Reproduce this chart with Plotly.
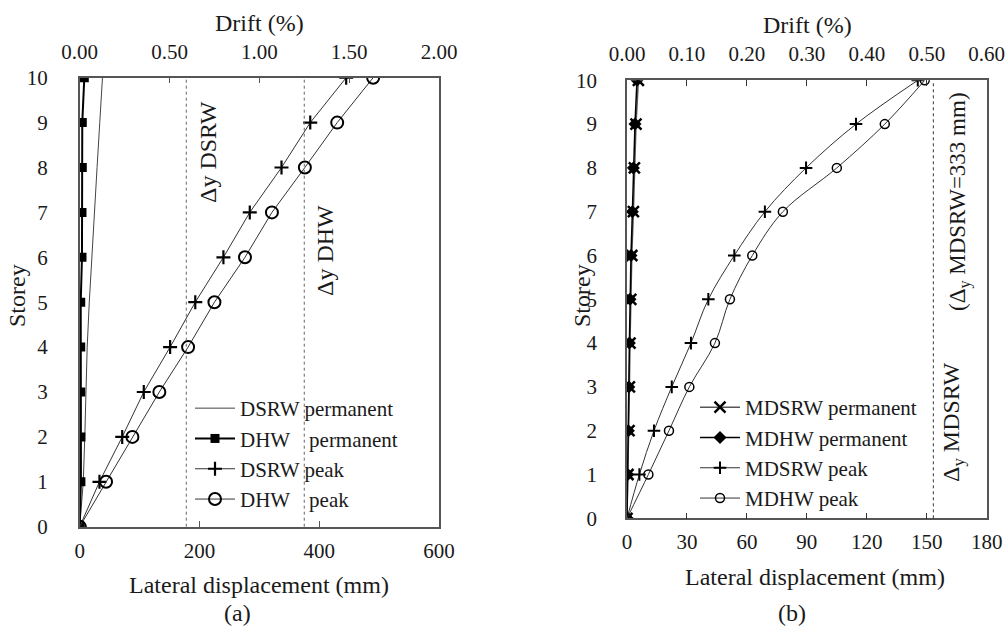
import plotly.graph_objects as go

W, H = 1007, 626
FONT = "'Liberation Serif', 'Times New Roman', 'DejaVu Serif', serif"

storeys = [0, 1, 2, 3, 4, 5, 6, 7, 8, 9, 10]
# panel (a) lateral displacement (mm)
a_dsrw_perm = [0, 6, 8.5, 10.5, 12.5, 16, 20, 24.5, 29, 33.5, 38]
a_dhw_perm = [0, 2, 2, 1.7, 1.7, 1.7, 3.8, 3.8, 4.3, 4.3, 7.7]
a_dsrw_peak = [0, 33, 71, 107, 151, 193, 240, 284, 337, 385, 445]
a_dhw_peak = [0, 44, 88, 133, 181, 225, 276, 321, 376, 430, 490]
a_yield = [178, 375]          # dashed yield lines
# panel (b)
b_mdsrw_perm = [0, 0.5, 1.0, 1.2, 1.5, 1.9, 2.4, 3.2, 3.7, 4.5, 5.7]
b_mdhw_perm = [0, 0.4, 0.7, 0.9, 1.2, 1.5, 2.0, 2.7, 3.2, 4.0, 5.0]
b_mdsrw_peak = [0, 6.2, 13.5, 22.4, 32, 40.7, 53.7, 69, 89.6, 114.6, 145.5]
b_mdhw_peak = [0, 10.7, 21, 31.2, 44, 51.5, 62.7, 78, 105, 129, 149]
b_yield = [153.3]

a_disp_range = [0, 600]
a_drift_range = [0, 2]
b_disp_range = [0, 180]
b_drift_range = [0, 0.6]


def px(x):
    return x / W


def py(y):
    return 1 - y / H


LINE = "#333333"
TXT = "#1a1a1a"
GAP = "\u2002\u2009\u2009"

fig = go.Figure()

# ---- panel (a)
fig.add_trace(go.Scatter(x=a_dsrw_perm, y=storeys, mode="lines", name="DSRW permanent",
                         line=dict(color="#444444", width=1), xaxis="x", yaxis="y", legend="legend"))
fig.add_trace(go.Scatter(x=a_dhw_perm, y=storeys, mode="lines+markers",
                         name="DHW" + GAP + "permanent",
                         line=dict(color="#000000", width=2),
                         marker=dict(symbol="square", size=9, color="#000000"),
                         xaxis="x", yaxis="y", legend="legend"))
fig.add_trace(go.Scatter(x=a_dsrw_peak, y=storeys, mode="lines+markers", name="DSRW peak",
                         line=dict(color=LINE, width=1),
                         marker=dict(symbol="cross-thin", size=10, color="#000000",
                                     line=dict(color="#000000", width=2.2)),
                         xaxis="x", yaxis="y", legend="legend"))
fig.add_trace(go.Scatter(x=a_dhw_peak, y=storeys, mode="lines+markers",
                         name="DHW" + GAP + "peak",
                         line=dict(color=LINE, width=1),
                         marker=dict(symbol="circle-open", size=12, color="#000000",
                                     line=dict(color="#000000", width=2)),
                         xaxis="x", yaxis="y", legend="legend"))

# ---- panel (b)
fig.add_trace(go.Scatter(x=b_mdsrw_perm, y=storeys, mode="lines+markers", name="MDSRW permanent",
                         line=dict(color="#555555", width=1.5),
                         marker=dict(symbol="x-thin", size=11, color="#000000",
                                     line=dict(color="#000000", width=2.5)),
                         xaxis="x2", yaxis="y2", legend="legend2"))
fig.add_trace(go.Scatter(x=b_mdhw_perm, y=storeys, mode="lines+markers", name="MDHW permanent",
                         line=dict(color="#000000", width=1.5),
                         marker=dict(symbol="diamond", size=10, color="#000000"),
                         xaxis="x2", yaxis="y2", legend="legend2"))
fig.add_trace(go.Scatter(x=b_mdsrw_peak, y=storeys, mode="lines+markers", name="MDSRW peak",
                         line=dict(color=LINE, width=1, shape="spline"),
                         marker=dict(symbol="cross-thin", size=9, color="#000000",
                                     line=dict(color="#000000", width=2)),
                         xaxis="x2", yaxis="y2", legend="legend2"))
fig.add_trace(go.Scatter(x=b_mdhw_peak, y=storeys, mode="lines+markers", name="MDHW peak",
                         line=dict(color=LINE, width=1, shape="spline"),
                         marker=dict(symbol="circle-open", size=9, color="#000000",
                                     line=dict(color="#000000", width=1.5)),
                         xaxis="x2", yaxis="y2", legend="legend2"))

# invisible carriers so the top drift axes are drawn
fig.add_trace(go.Scatter(x=a_drift_range, y=[0, 0], mode="markers", marker=dict(opacity=0),
                         showlegend=False, hoverinfo="skip", xaxis="x3", yaxis="y"))
fig.add_trace(go.Scatter(x=b_drift_range, y=[0, 0], mode="markers", marker=dict(opacity=0),
                         showlegend=False, hoverinfo="skip", xaxis="x4", yaxis="y2"))

# dashed yield lines
shapes = []
for v in a_yield:
    shapes.append(dict(type="line", xref="x", yref="y domain", x0=v, x1=v, y0=0, y1=1,
                       line=dict(color="#666666", width=1, dash="dot")))
for v in b_yield:
    shapes.append(dict(type="line", xref="x2", yref="y2 domain", x0=v, x1=v, y0=0, y1=1,
                       line=dict(color="#333333", width=1, dash="dot")))

tickfont = dict(family=FONT, size=21, color=TXT)
axcommon = dict(showgrid=False, zeroline=False, showline=True, linecolor="#555555",
                linewidth=1.5, tickfont=tickfont, automargin=False)

a_xdom = [px(79.7), px(439)]
a_ydom = [py(526.7), py(77.7)]
b_xdom = [px(627), px(986.7)]
b_ydom = [py(518.3), py(80.3)]

fig.update_layout(
    width=W, height=H,
    margin=dict(l=0, r=0, t=0, b=0, pad=0, autoexpand=False),
    paper_bgcolor="white", plot_bgcolor="white",
    font=dict(family=FONT, color=TXT, size=21),
    shapes=shapes,
    xaxis=dict(domain=a_xdom, anchor="y", range=a_disp_range, dtick=200, ticks="inside",
               ticklen=6, tickcolor="#555555", mirror=False, ticklabelstandoff=4, **axcommon),
    yaxis=dict(domain=a_ydom, anchor="x", range=[0, 10], dtick=1, ticks="",
               mirror=True, ticklabelstandoff=26, **axcommon),
    xaxis3=dict(overlaying="x", anchor="y", side="top", range=a_drift_range, dtick=0.5,
                tickformat=".2f", ticks="inside", ticklen=6, tickcolor="#555555",
                ticklabelstandoff=9, **axcommon),
    xaxis2=dict(domain=b_xdom, anchor="y2", range=b_disp_range, dtick=30, ticks="inside",
                ticklen=6, tickcolor="#333333", ticklabelstandoff=4, **axcommon),
    yaxis2=dict(domain=b_ydom, anchor="x2", range=[0, 10], dtick=1, ticks="",
                mirror=True, ticklabelstandoff=24, **axcommon),
    xaxis4=dict(overlaying="x2", anchor="y2", side="top", range=b_drift_range, dtick=0.1,
                tickformat=".2f", ticks="inside", ticklen=6, tickcolor="#333333",
                ticklabelstandoff=9, **axcommon),
    legend=dict(x=px(190), y=py(388), xanchor="left", yanchor="top",
                bgcolor="rgba(0,0,0,0)", font=dict(family=FONT, size=21, color=TXT),
                tracegroupgap=0, itemwidth=40),
    legend2=dict(x=px(695), y=py(387), xanchor="left", yanchor="top",
                 bgcolor="rgba(0,0,0,0)", font=dict(family=FONT, size=21, color=TXT),
                 tracegroupgap=0, itemwidth=40),
    showlegend=True,
)


def ann(text, x, y, size=22, angle=0):
    fig.add_annotation(text=text, x=px(x), y=py(y), xref="paper", yref="paper",
                       showarrow=False, textangle=angle, xanchor="center", yanchor="middle",
                       font=dict(family=FONT, size=size, color=TXT))


ann("Lateral displacement (mm)", 259, 585, 24)
ann("Lateral displacement (mm)", 815, 577, 24)
ann("Drift (%)", 259, 23, 24)
ann("Drift (%)", 807, 25, 24)
ann("Storey", 17, 296, 24, -90)
ann("Storey", 582, 296, 24, -90)
ann("(a)", 237, 613, 24)
ann("(b)", 792, 613, 24)
ann("\u0394y DSRW", 208, 152, 24, -90)
ann("\u0394y DHW", 325, 251, 24, -90)
ann("\u0394<sub>y</sub> MDSRW", 953, 422, 24, -90)
ann("(\u0394<sub>y</sub> MDSRW=333 mm)", 960, 202, 23, -90)

fig.write_html("out.html")
